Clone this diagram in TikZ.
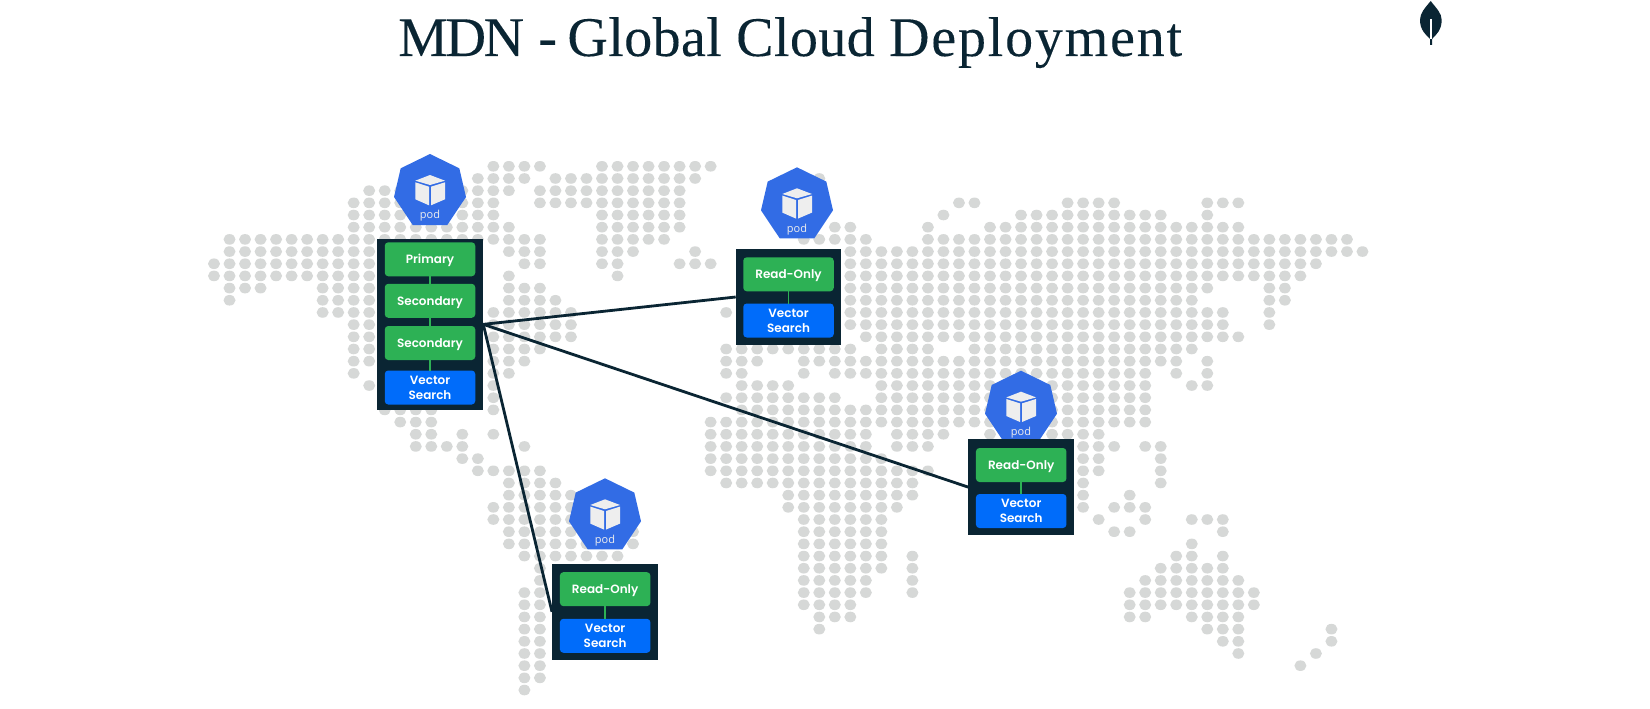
\documentclass[tikz,border=0pt]{standalone}
\usepackage{fontspec}
\setmainfont{Liberation Serif}
\newfontfamily\titlefont{Liberation Serif}[LetterSpace=0.7,FakeBold=0.15]
\newfontfamily\boxfont{Poppins}[BoldFont={Poppins SemiBold}]
\newfontfamily\podfont{Open Sans}
\definecolor{dotc}{HTML}{D6D8D7}
\definecolor{inkc}{HTML}{0A2533}
\definecolor{greenc}{HTML}{2DB155}
\definecolor{bluec}{HTML}{006CFA}
\definecolor{podc}{HTML}{326CE5}
\definecolor{cubec}{HTML}{EEEEEE}
\tikzset{
  panel/.style={fill=inkc,draw=none,inner sep=0,outer sep=0},
  search/.style={fill=bluec,draw=none,rounded corners=3.5pt,minimum width=90.5pt,minimum height=34pt,inner sep=0,outer sep=0,text=white,align=center,font=\boxfont\bfseries\fontsize{12}{15}\selectfont},
  member/.style={search,fill=greenc,text height=9pt,text depth=0.5pt},
  link/.style={draw=greenc,line width=1.7pt},
  wan/.style={draw=inkc,line width=2.8pt}
}
\newcommand{\dotrow}[2]{\foreach \a/\b in {#2}{\foreach \c in {\a,...,\b}{\fill[dotc] ({214+15.52*\c},{166.3+12.18*#1}) ellipse [x radius=6,y radius=5.3];}}}
\newcommand{\podicon}[2]{%
  \begin{scope}[shift={(#1,#2)}]
    \fill[podc] (0,0) -- (29.3,14.3) -- (36,43) -- (17.3,71) -- (-17.3,71) -- (-36,43) -- (-29.3,14.3) -- cycle;
    \fill[cubec] (0,21) -- (15,26.7) -- (0,31) -- (-14.7,26.7) -- cycle;
    \fill[cubec] (-14.7,28.3) -- (-1,32.7) -- (-1,51.3) -- (-14.7,45.3) -- cycle;
    \fill[cubec] (1,32.7) -- (15,28.3) -- (15,45.3) -- (1,51.3) -- cycle;
    \node[text=cubec,font=\podfont\fontsize{11}{11}\selectfont,inner sep=0] at (0,62) {pod};
  \end{scope}}
\begin{document}
\begin{tikzpicture}[x=1pt,y=-1pt]
\useasboundingbox[fill=white] (0,0) rectangle (1650,709);
% map
\dotrow{0}{18/21,25/32}
\dotrow{1}{17/20,22/31,39/39}
\dotrow{2}{10/19,21/30}
\dotrow{3}{9/18,21/30,48/49,55/58,64/66}
\dotrow{4}{9/18,25/30,47/47,52/61,64/64}
\dotrow{5}{9/19,25/30,40/41,46/46,50/66}
\dotrow{6}{1/21,25/29,38/42,46/73}
\dotrow{7}{1/10,19/21,25/27,31/31,41/74}
\dotrow{8}{0/10,20/21,25/26,30/32,41/71}
\dotrow{9}{0/10,19/19,26/26,41/70}
\dotrow{10}{1/3,7/10,19/21,41/64,68/69}
\dotrow{11}{1/1,7/10,19/22,41/63,68/69}
\dotrow{12}{7/10,18/23,33/33,41/65,68/68}
\dotrow{13}{9/10,18/23,41/65,68/68}
\dotrow{14}{9/10,18/23,42/66}
\dotrow{15}{9/10,18/21,33/41,43/46,49/63}
\dotrow{16}{9/10,18/20,33/35,38/46,47/62,64/64}
\dotrow{17}{9/9,18/19,33/34,38/38,40/60,62/62,64/64}
\dotrow{18}{10/10,18/18,34/37,43/60,63/64}
\dotrow{19}{18/18,33/40,43/60}
\dotrow{20}{11/14,18/18,34/60}
\dotrow{21}{12/14,32/60}
\dotrow{22}{13/14,16/16,18/18,32/42,44/47,50/57}
\dotrow{23}{13/16,20/20,32/42,44/46,56/58,60/61}
\dotrow{24}{16/17,32/43,56/57,61/61}
\dotrow{25}{17/21,32/46,56/57,61/61}
\dotrow{26}{19/22,33/45,56/56,61/61}
\dotrow{27}{19/23,37/45,56/56,59/59}
\dotrow{28}{18/24,37/44,56/56,58/60}
\dotrow{29}{18/24,38/43,57/57,60/60,63/65}
\dotrow{30}{19/27,38/43,58/59,65/65}
\dotrow{31}{19/27,38/43,63/63}
\dotrow{32}{20/26,38/43,45/45,62/63,65/65}
\dotrow{33}{21/21,38/43,45/45,61/65}
\dotrow{34}{21/21,38/42,45/45,60/66}
\dotrow{35}{20/21,38/42,45/45,59/67}
\dotrow{36}{20/21,38/41,59/67}
\dotrow{37}{20/21,39/41,59/60,63/66}
\dotrow{38}{20/21,39/39,64/66,72/72}
\dotrow{39}{20/21,65/66,72/72}
\dotrow{40}{20/21,66/66,71/71}
\dotrow{41}{20/21,70/70}
\dotrow{42}{20/21}
\dotrow{43}{20/20}
% title and logo
\node[anchor=base west,inner sep=0,text=inkc,font=\titlefont\fontsize{56}{56}\selectfont] (title) at (398,56) {{\addfontfeature{LetterSpace=-4.3}MDN} - \kern-4pt Global Cloud {\addfontfeature{LetterSpace=3.2}Deployment}};
\fill[inkc] (1430.7,1) .. controls (1425,8) and (1420,13) .. (1420,20) .. controls (1420,30) and (1426,35) .. (1430,39) -- (1430,45) -- (1432,45) -- (1432,39) .. controls (1436,35) and (1441.7,30) .. (1441.7,20) .. controls (1441.7,13) and (1436,8) .. (1430.7,1) -- cycle;
\draw[white,line width=1.2pt] (1431,19) -- (1431,39);
% panels
\node[panel,minimum width=106.6pt,minimum height=171.3pt] (east) at (430,324.35) {};
\node[panel,minimum width=105.3pt,minimum height=96pt] (europe) at (788.35,297) {};
\node[panel,minimum width=106pt,minimum height=95.7pt] (asia) at (1021.3,487.15) {};
\node[panel,minimum width=106.3pt,minimum height=96.3pt] (south) at (605.15,611.85) {};
% wide-area links
\draw[wan] (east.east) -- (europe.west);
\draw[wan] (east.east) -- (asia.west);
\draw[wan] (east.east) -- (south.west);
% pods
\podicon{430}{154}
\podicon{797}{167.3}
\podicon{1021}{370.7}
\podicon{605}{478.3}
% re-draw panel over the pod that it overlaps
\node[panel,minimum width=106pt,minimum height=95.7pt] at (1021.3,487.15) {};
% members
\node[member] (p1) at (430,259.3) {Primary};
\node[member] (s1) at (430,300.8) {Secondary};
\node[member] (s2) at (430,343) {Secondary};
\node[search] (v1) at (430,387.5) {Vector\\Search};
\draw[link] (p1) -- (s1);
\draw[link] (s1) -- (s2);
\draw[link] (s2) -- (v1);
\node[member] (r2) at (788.5,274.3) {Read-Only};
\node[search] (v2) at (788.5,320.5) {Vector\\Search};
\draw[link] (r2) -- (v2);
\node[member] (r3) at (1021.2,465) {Read-Only};
\node[search] (v3) at (1021.2,511) {Vector\\Search};
\draw[link] (r3) -- (v3);
\node[member] (r4) at (605.15,589.15) {Read-Only};
\node[search] (v4) at (605.15,635.8) {Vector\\Search};
\draw[link] (r4) -- (v4);
\end{tikzpicture}
\end{document}
